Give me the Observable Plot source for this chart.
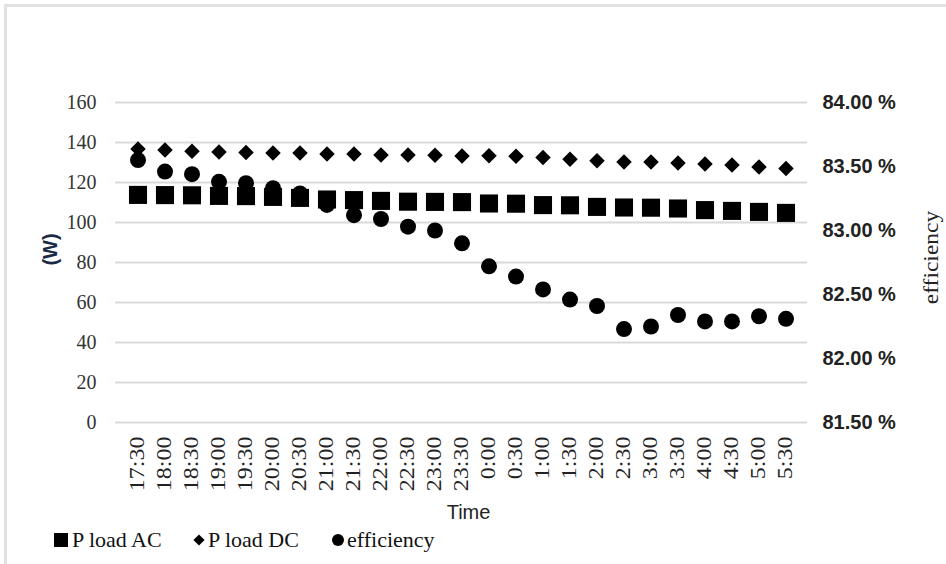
<!DOCTYPE html>
<html><head><meta charset="utf-8">
<script src="https://cdn.jsdelivr.net/npm/d3@7"></script>
<script src="https://cdn.jsdelivr.net/npm/@observablehq/plot@0.6"></script>
<style>
html,body{margin:0;padding:0;background:#fff}
body{width:946px;height:564px;overflow:hidden;position:relative;font-family:"Liberation Serif",serif}
#chart{position:absolute;left:0;top:0}
#legend{position:absolute;left:0;top:524px}
.frameTop{position:absolute;left:4px;top:4px;width:942px;height:2.5px;background:#e2e2e2}
.frameLeft{position:absolute;left:4px;top:4px;width:2.5px;height:560px;background:#e2e2e2}
</style></head><body>
<div class="frameTop"></div><div class="frameLeft"></div>
<div id="chart"></div>
<div id="legend"></div>
<script>
const times = ["17:30","18:00","18:30","19:00","19:30","20:00","20:30","21:00","21:30","22:00","22:30","23:00","23:30","0:00","0:30","1:00","1:30","2:00","2:30","3:00","3:30","4:00","4:30","5:00","5:30"];
const pLoadAC = [113.8,113.7,113.6,113.3,113.2,112.8,112.3,111.5,111.2,110.8,110.4,110.3,110.2,109.5,109.4,108.7,108.6,107.8,107.5,107.4,107.0,106.2,105.8,105.3,104.8];
const pLoadDC = [136.7,136.2,135.6,135.3,135.0,134.8,134.8,134.2,134.2,133.8,133.7,133.6,133.2,133.4,133.1,132.5,131.6,130.9,130.3,130.2,129.8,129.2,128.7,127.8,127.0];
const efficiency = [83.55,83.46,83.44,83.38,83.37,83.33,83.29,83.20,83.12,83.09,83.03,83.00,82.90,82.72,82.64,82.54,82.46,82.41,82.23,82.25,82.34,82.29,82.29,82.33,82.31];
const yTicks = [0,20,40,60,80,100,120,140,160];
const effTicks = [81.5,82,82.5,83,83.5,84];
const seriesNames = ["P load AC","P load DC","efficiency"];

const effMin = 81.5, effMax = 84, yMax = 160;
const toY = e => (e - effMin) / (effMax - effMin) * yMax;
const fromY = v => effMin + v / yMax * (effMax - effMin);
const rows = times.map((t, i) => ({time: t, ac: pLoadAC[i], dc: pLoadDC[i], eff: efficiency[i]}));

const plot = Plot.plot({
  width: 946, height: 524,
  marginLeft: 115, marginRight: 139, marginTop: 102, marginBottom: 102,
  style: {fontFamily: "Liberation Serif", background: "transparent", overflow: "visible"},
  x: {type: "band", domain: times, padding: 0, label: null},
  y: {domain: [0, yMax], label: null},
  marks: [
    Plot.gridY(yTicks, {stroke: "#d9d9d9", strokeWidth: 2, strokeOpacity: 1}),
    Plot.axisY(yTicks, {anchor: "left", tickSize: 0, tickPadding: 19, fontSize: 20, color: "#333", label: null}),
    Plot.axisY(effTicks.map(toY), {anchor: "right", tickSize: 0, tickPadding: 15, fontSize: 20, fontWeight: "bold", color: "#222", label: null,
      tickFormat: d => fromY(d).toFixed(2) + " %"}),
    Plot.axisX({tickSize: 0, tickPadding: 14, tickRotate: -90, fontSize: 20, color: "#222", label: null}),
    Plot.dot(rows, {x: "time", y: "ac", symbol: "square", r: 10.2, fill: "black", stroke: "none"}),
    Plot.dot(rows, {x: "time", y: "dc", symbol: "diamond2", r: 7, fill: "black", stroke: "none"}),
    Plot.dot(rows, {x: "time", y: d => toY(d.eff), symbol: "circle", r: 8, fill: "black", stroke: "none"}),
    Plot.text(["(W)"], {frameAnchor: "left", dx: -65, dy: -13, rotate: -90, fontSize: 20, fontWeight: "bold", fontFamily: "Liberation Sans", fill: "#1c2a48", textAnchor: "middle"}),
    Plot.text(["efficiency"], {frameAnchor: "right", dx: 124, dy: -5, rotate: -90, fontSize: 21, fontFamily: "Liberation Serif", fill: "#222", textAnchor: "middle"}),
    Plot.text(["Time"], {frameAnchor: "bottom", dx: 7, dy: 96, fontSize: 20, fontFamily: "Liberation Sans", fill: "#222", textAnchor: "middle"})
  ]
});
document.getElementById("chart").appendChild(plot);

const serif = "'Liberation Serif', serif", sans = "'Liberation Sans', sans-serif";
plot.querySelectorAll("text").forEach(t => {
  const s = (t.textContent || "").trim();
  if (/^\d+$/.test(s)) {
    t.style.fontFamily = serif;
  } else if (/^\d+:\d+$/.test(s)) {
    t.style.fontFamily = serif;
    t.setAttribute("transform", (t.getAttribute("transform") || "") + " scale(1.2,1)");
  } else if (/%$/.test(s)) {
    t.style.fontFamily = sans;
  } else if (s === "efficiency") {
    t.style.fontFamily = serif;
    t.setAttribute("transform", (t.getAttribute("transform") || "") + " scale(1.12,1)");
  }
});

const lg = d3.select("#legend").append("svg").attr("width", 946).attr("height", 40);
const items = [
  {name: seriesNames[0], sym: d3.symbolSquare, size: 196, cx: 61, tx: 72},
  {name: seriesNames[1], sym: d3.symbolDiamond2, size: 80, cx: 199, tx: 208},
  {name: seriesNames[2], sym: d3.symbolCircle, size: Math.PI * 36, cx: 338, tx: 347}
];
items.forEach(it => {
  lg.append("path").attr("d", d3.symbol(it.sym, it.size)()).attr("transform", `translate(${it.cx},16)`).attr("fill", "black");
  lg.append("text").attr("x", it.tx).attr("y", 23).attr("font-family", "Liberation Serif").attr("font-size", 22).attr("fill", "#111").text(it.name);
});
</script>
</body></html>
